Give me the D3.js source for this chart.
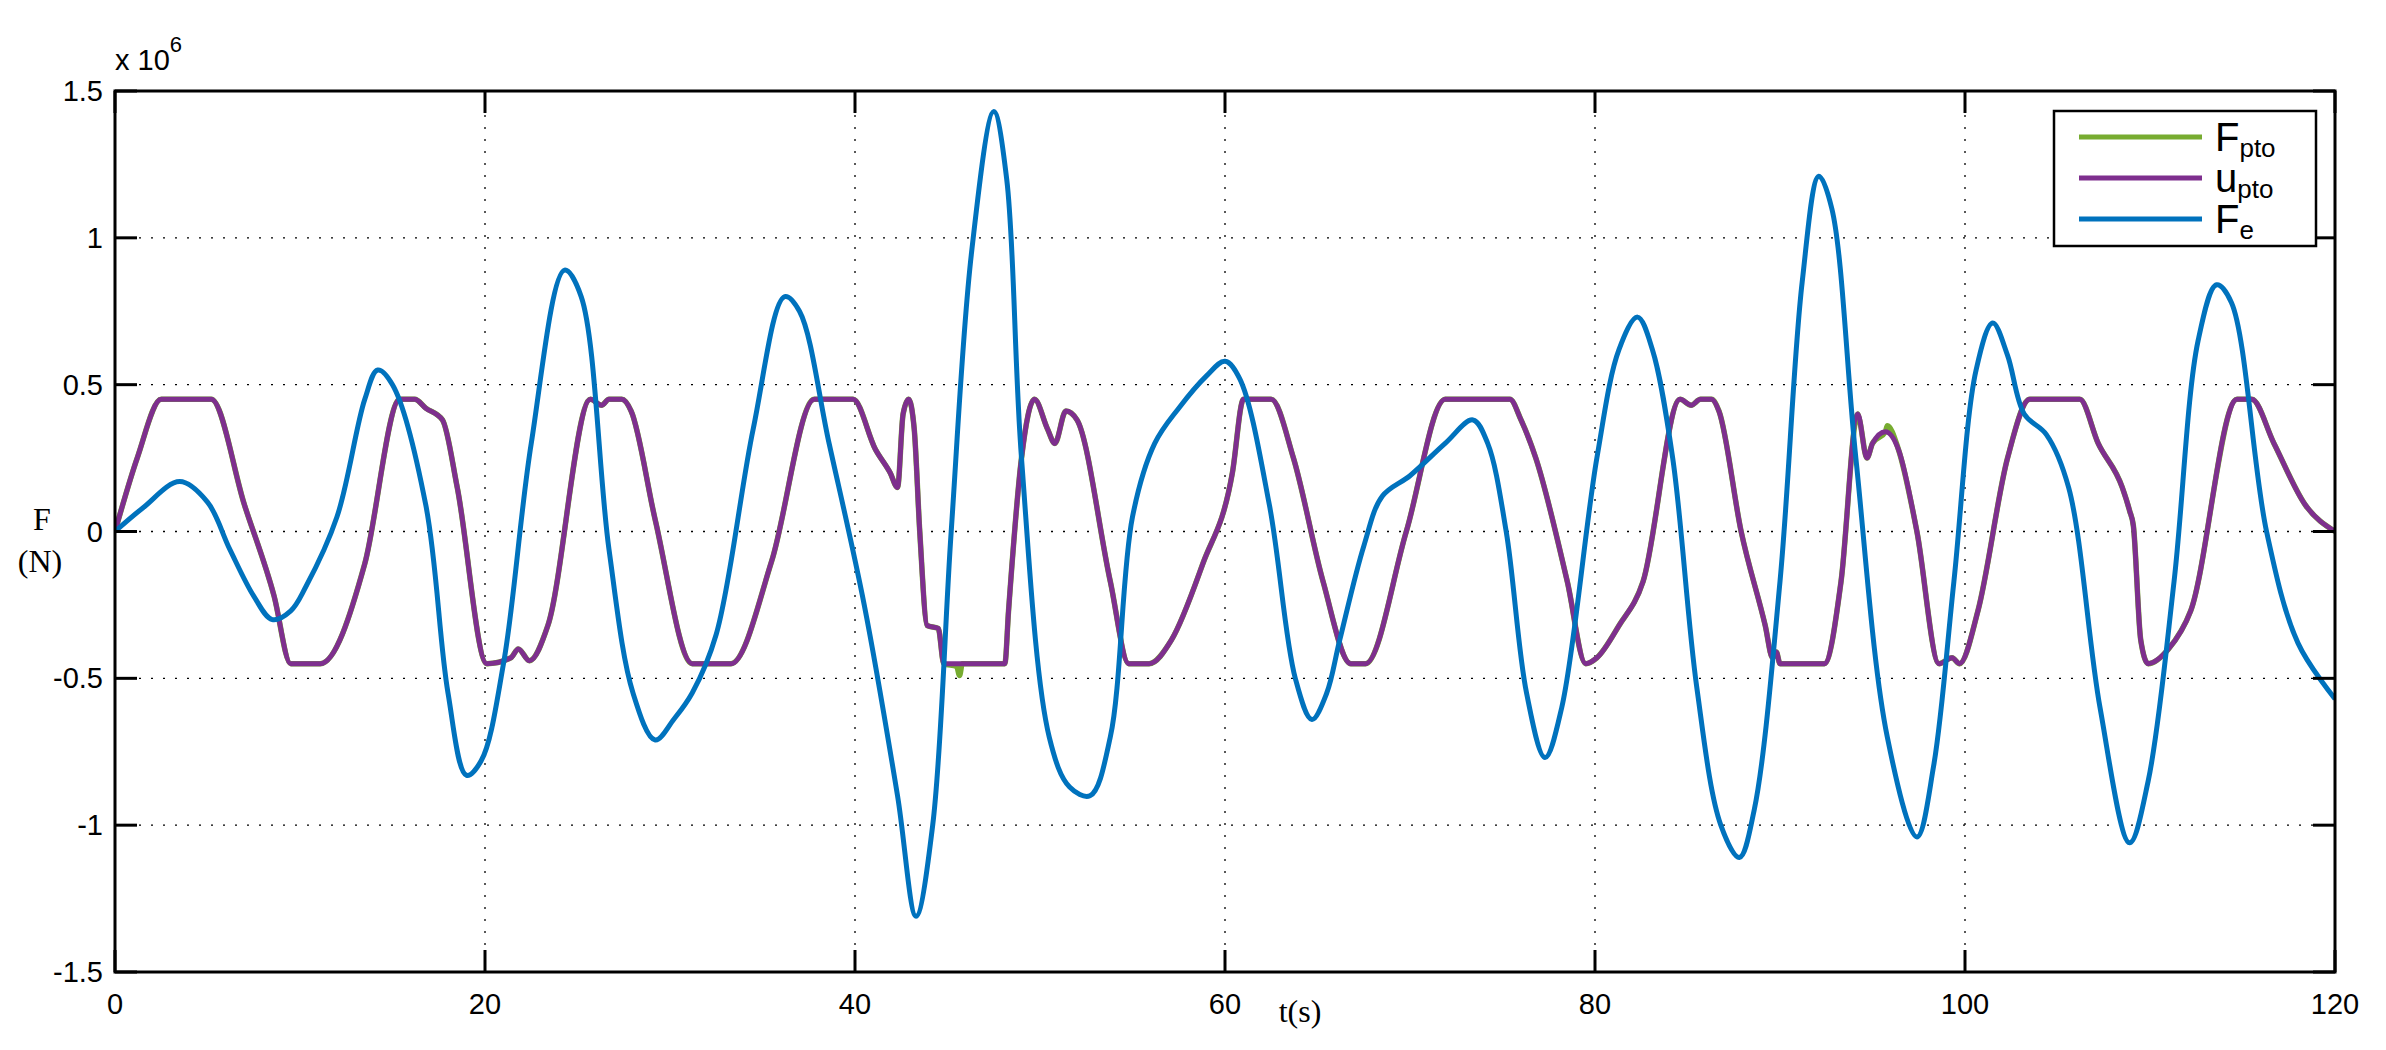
<!DOCTYPE html>
<html><head><meta charset="utf-8">
<script src="https://cdn.jsdelivr.net/npm/d3@7/dist/d3.min.js"></script>
<style>body{margin:0;background:#fff}svg{display:block}</style></head>
<body><svg id="c" width="2386" height="1050"></svg>
<script>
const xTicks=[0,20,40,60,80,100,120];
const yTicks=[-1.5,-1,-0.5,0,0.5,1,1.5];
const yTickLabels=["-1.5","-1","-0.5","0","0.5","1","1.5"];
const seriesNames=["F","u","F"];
const seriesSubs=["pto","pto","e"];
// Fe : [t, value x1e6]
const feData=[[0,0],[1.5,0.08],[3.5,0.17],[5,0.1],[6.2,-0.06],[7.5,-0.22],[8.5,-0.3],[9.5,-0.27],[10.3,-0.19],[12,0.05],[13.5,0.45],[14.2,0.55],[15,0.5],[16.8,0.09],[18,-0.55],[19,-0.83],[19.8,-0.78],[21,-0.45],[22.5,0.3],[24.3,0.89],[25.2,0.8],[26.7,-0.06],[28,-0.55],[29.2,-0.71],[30.2,-0.64],[31.2,-0.55],[32.5,-0.35],[34.5,0.35],[36.2,0.8],[37,0.75],[38.6,0.3],[40.5,-0.25],[42.3,-0.9],[43.3,-1.31],[44.2,-1.0],[45.2,0],[46.3,0.95],[47.5,1.43],[48.2,1.2],[49,0.25],[50.5,-0.7],[51.6,-0.87],[52.7,-0.9],[53.8,-0.7],[55,0.05],[56.2,0.3],[57.5,0.42],[59,0.53],[60,0.58],[60.8,0.52],[62.4,0.09],[63.8,-0.5],[64.7,-0.64],[65.5,-0.55],[66.2,-0.37],[67.5,-0.05],[68.5,0.12],[70,0.19],[71.9,0.3],[73.4,0.38],[74.2,0.3],[75.2,0],[76.3,-0.55],[77.3,-0.77],[78.2,-0.6],[80.1,0.25],[81.3,0.62],[82.3,0.73],[83.1,0.62],[84.2,0.25],[85.5,-0.53],[86.8,-1.0],[87.8,-1.11],[88.6,-0.95],[90,-0.17],[91.2,0.85],[92.1,1.21],[92.8,1.1],[94.1,0.25],[95.8,-0.7],[97.4,-1.04],[98.3,-0.8],[99.4,-0.17],[100.6,0.55],[101.5,0.71],[102.3,0.6],[103.2,0.4],[104.4,0.33],[105.6,0.15],[107.3,-0.6],[108.9,-1.06],[109.9,-0.85],[111.3,-0.17],[112.6,0.65],[113.6,0.84],[114.4,0.78],[116.3,0],[118,-0.38],[120,-0.57]];
// u_pto
const uData=[[0,0],[1.2,0.25],[2.5,0.45],[5.2,0.45],[7,0.09],[8.6,-0.22],[9.5,-0.45],[11.1,-0.45],[13.5,-0.11],[15.4,0.45],[16.2,0.45],[16.8,0.42],[17.7,0.38],[18.5,0.15],[20.1,-0.45],[21.4,-0.43],[21.8,-0.4],[22.4,-0.44],[23.4,-0.32],[25.7,0.45],[26.3,0.43],[26.7,0.45],[27.4,0.45],[27.9,0.41],[29.2,0.04],[31.2,-0.45],[33.3,-0.45],[35.5,-0.1],[37.8,0.45],[39.9,0.45],[41.1,0.28],[41.9,0.2],[42.3,0.15],[42.6,0.4],[42.9,0.45],[43.2,0.35],[43.5,0],[43.9,-0.32],[44.5,-0.33],[44.8,-0.45],[48.1,-0.45],[48.3,-0.27],[49,0.25],[49.7,0.45],[50.4,0.35],[50.8,0.3],[51.4,0.41],[52,0.38],[53.8,-0.17],[54.8,-0.45],[55.9,-0.45],[57.1,-0.37],[58.8,-0.11],[60.4,0.2],[61,0.45],[62.5,0.45],[63.7,0.25],[65.3,-0.17],[66.8,-0.45],[67.6,-0.45],[69.8,0],[71.9,0.45],[75.4,0.45],[76,0.38],[76.8,0.25],[78.5,-0.17],[79.5,-0.45],[80.1,-0.43],[81.3,-0.32],[82.6,-0.17],[84.6,0.45],[85.2,0.43],[85.7,0.45],[86.3,0.45],[86.7,0.41],[87.9,0],[89.2,-0.32],[89.6,-0.43],[89.8,-0.41],[90,-0.45],[92.4,-0.45],[93.3,-0.17],[94.2,0.4],[94.7,0.25],[95,0.3],[95.7,0.34],[96.4,0.28],[97.4,0],[98.6,-0.45],[99.3,-0.43],[99.7,-0.45],[100.7,-0.27],[102.3,0.25],[103.5,0.45],[106.2,0.45],[107.2,0.3],[108.5,0.15],[108.9,0.07],[109.1,0.02],[109.5,-0.37],[109.9,-0.45],[111,-0.4],[112.2,-0.27],[114.7,0.45],[115.5,0.45],[116.7,0.3],[118.4,0.09],[120,0]];
// F_pto: same as u_pto except small deviations
const fptoDeviations=[[45.5,-0.46],[45.65,-0.49],[45.8,-0.45],[94.3,0.38],[95.8,0.36]];
const fptoData=uData.concat(fptoDeviations).sort((a,b)=>a[0]-b[0]);

const svg=d3.select("#c");
const L=115,R=2335,T=91,B=972;
const x=d3.scaleLinear().domain([0,120]).range([L,R]);
const y=d3.scaleLinear().domain([-1.5,1.5]).range([B,T]);
const g=svg.append("g");
g.selectAll(".gx").data(xTicks.slice(1,-1)).join("line").attr("x1",d=>x(d)).attr("x2",d=>x(d)).attr("y1",T).attr("y2",B).attr("stroke","#000").attr("stroke-width",1.3).attr("stroke-dasharray","2,10");
g.selectAll(".gy").data(yTicks.slice(1,-1)).join("line").attr("y1",d=>y(d)).attr("y2",d=>y(d)).attr("x1",L).attr("x2",R).attr("stroke","#000").attr("stroke-width",1.3).attr("stroke-dasharray","2,10");
svg.append("clipPath").attr("id","cp").append("rect").attr("x",L).attr("y",T).attr("width",R-L).attr("height",B-T);
const pg=svg.append("g").attr("clip-path","url(#cp)");
const ln=d3.line().x(d=>x(d[0])).y(d=>y(d[1]));
pg.append("path").attr("d",ln.curve(d3.curveMonotoneX)(fptoData)).attr("fill","none").attr("stroke","#77ac30").attr("stroke-width",5.5);
pg.append("path").attr("d",ln.curve(d3.curveMonotoneX)(uData)).attr("fill","none").attr("stroke","#7e2f8e").attr("stroke-width",5);
pg.append("path").attr("d",ln.curve(d3.curveCatmullRom.alpha(0.5))(feData)).attr("fill","none").attr("stroke","#0072bd").attr("stroke-width",5);
svg.append("rect").attr("x",L).attr("y",T).attr("width",R-L).attr("height",B-T).attr("fill","none").attr("stroke","#000").attr("stroke-width",3);
const tk=svg.append("g").attr("stroke","#000").attr("stroke-width",3);
xTicks.forEach(d=>{tk.append("line").attr("x1",x(d)).attr("x2",x(d)).attr("y1",B).attr("y2",B-22);tk.append("line").attr("x1",x(d)).attr("x2",x(d)).attr("y1",T).attr("y2",T+22);});
yTicks.forEach(d=>{tk.append("line").attr("y1",y(d)).attr("y2",y(d)).attr("x1",L).attr("x2",L+22);tk.append("line").attr("y1",y(d)).attr("y2",y(d)).attr("x1",R).attr("x2",R-22);});
const ff="Liberation Sans, Arial, sans-serif";
svg.selectAll(".xl").data(xTicks).join("text").attr("x",d=>x(d)).attr("y",B+42).attr("text-anchor","middle").attr("font-family",ff).attr("font-size",29).text(d=>d);
svg.selectAll(".yl").data(yTicks).join("text").attr("x",L-12).attr("y",(d)=>y(d)+10).attr("text-anchor","end").attr("font-family",ff).attr("font-size",29).text((d,i)=>yTickLabels[i]);
const ex=svg.append("text").attr("x",L).attr("y",70).attr("font-family",ff).attr("font-size",29);
ex.append("tspan").text("x 10");ex.append("tspan").attr("dy",-18).attr("font-size",22).text("6");
const sf="Liberation Serif, Times New Roman, serif";
svg.append("text").attr("x",42).attr("y",530).attr("text-anchor","middle").attr("font-family",sf).attr("font-size",32).text("F");
svg.append("text").attr("x",40).attr("y",572).attr("text-anchor","middle").attr("font-family",sf).attr("font-size",32).text("(N)");
svg.append("text").attr("x",1300).attr("y",1022).attr("text-anchor","middle").attr("font-family",sf).attr("font-size",32).text("t(s)");
const lg=svg.append("g");
lg.append("rect").attr("x",2054).attr("y",111).attr("width",262).attr("height",135).attr("fill","#fff").attr("stroke","#000").attr("stroke-width",2.5);
const cols=["#77ac30","#7e2f8e","#0072bd"];
[0,1,2].forEach(i=>{const yy=137+i*41;
lg.append("line").attr("x1",2079).attr("x2",2202).attr("y1",yy).attr("y2",yy).attr("stroke",cols[i]).attr("stroke-width",5);
const t=lg.append("text").attr("x",2215).attr("y",yy+14).attr("font-family",ff).attr("font-size",40);
t.append("tspan").text(seriesNames[i]);t.append("tspan").attr("dy",6).attr("font-size",26).text(seriesSubs[i]);});
</script></body></html>
